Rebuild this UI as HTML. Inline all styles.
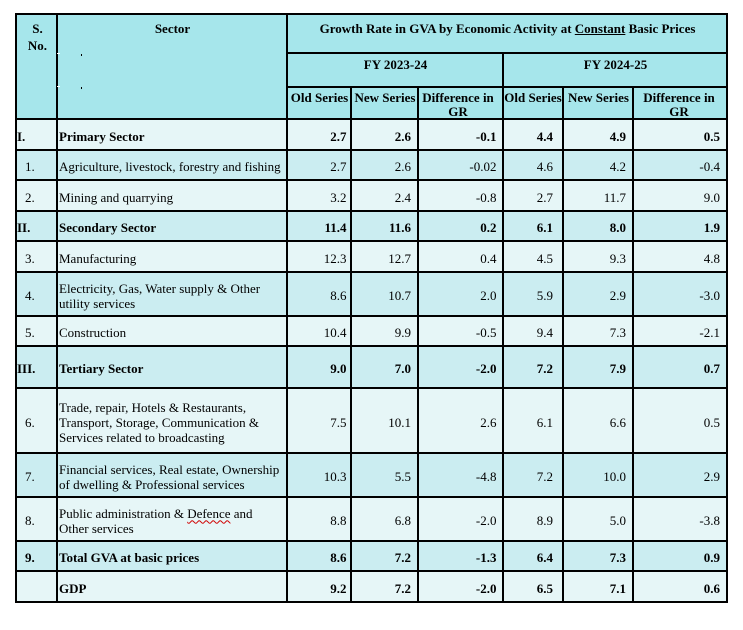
<!DOCTYPE html>
<html><head><meta charset="utf-8">
<style>
html,body{margin:0;padding:0;background:#fff;}
body{width:743px;height:630px;position:relative;overflow:hidden;font-family:"Liberation Serif","Times New Roman",serif;font-size:13px;color:#000;}
.l{position:absolute;background:#000;}
.row{position:absolute;left:16px;width:711px;}
.lt{background:#e6f6f7;}
.dk{background:#cbedf1;}
.c{position:absolute;top:0;height:100%;box-sizing:border-box;display:flex;align-items:center;line-height:15px;padding-top:3px;white-space:nowrap;}
.sn{left:0;width:41px;padding-left:9px;}
.rom{padding-left:1px;}
.sec{left:43px;width:227px;}
.k1,.k2,.k3,.k4,.k5,.k6{justify-content:flex-end;}
.k1{left:272px;width:63px;padding-right:4.5px;}
.k2{left:336px;width:66px;padding-right:7px;}
.k3{left:403px;width:84px;padding-right:6.5px;}
.k4{left:488px;width:59px;padding-right:10px;}
.k5{left:548px;width:69px;padding-right:7px;}
.k6{left:618px;width:93px;padding-right:7px;}
.b .c{font-weight:bold;}
.h{position:absolute;font-weight:bold;line-height:14px;text-align:center;white-space:nowrap;}
.wavy{text-decoration:underline wavy #d00000;text-decoration-thickness:1px;text-underline-offset:2px;}
</style></head><body>

<!-- header background -->
<div style="position:absolute;left:16px;top:14px;width:711px;height:105px;background:#a6e6eb;"></div>

<!-- header text -->
<div class="h" style="left:17px;top:20px;width:41px;line-height:17px;">S.<br>No.</div>
<div class="h" style="left:58px;top:22px;width:229px;">Sector</div>
<div class="h" style="left:288px;top:22px;width:439px;">Growth Rate in GVA by Economic Activity at <span style="text-decoration:underline;">Constant</span> Basic Prices</div>
<div class="h" style="left:288px;top:58px;width:215px;">FY 2023-24</div>
<div class="h" style="left:504px;top:58px;width:223px;">FY 2024-25</div>
<div class="h" style="left:288px;top:91px;width:63px;">Old Series</div>
<div class="h" style="left:352px;top:91px;width:66px;">New Series</div>
<div class="h" style="left:416px;top:91px;width:84px;">Difference in<br>GR</div>
<div class="h" style="left:503px;top:91px;width:60px;">Old Series</div>
<div class="h" style="left:564px;top:91px;width:69px;">New Series</div>
<div class="h" style="left:634px;top:91px;width:90px;">Difference in<br>GR</div>

<!-- body rows -->
<div class="row lt b" style="top:119px;height:31px;">
 <div class="c sn rom">I.</div><div class="c sec">Primary Sector</div>
 <div class="c k1">2.7</div><div class="c k2">2.6</div><div class="c k3">-0.1</div><div class="c k4">4.4</div><div class="c k5">4.9</div><div class="c k6">0.5</div>
</div>
<div class="row dk" style="top:150px;height:30px;">
 <div class="c sn">1.</div><div class="c sec">Agriculture, livestock, forestry and fishing</div>
 <div class="c k1">2.7</div><div class="c k2">2.6</div><div class="c k3">-0.02</div><div class="c k4">4.6</div><div class="c k5">4.2</div><div class="c k6">-0.4</div>
</div>
<div class="row lt" style="top:180px;height:31px;">
 <div class="c sn">2.</div><div class="c sec">Mining and quarrying</div>
 <div class="c k1">3.2</div><div class="c k2">2.4</div><div class="c k3">-0.8</div><div class="c k4">2.7</div><div class="c k5">11.7</div><div class="c k6">9.0</div>
</div>
<div class="row dk b" style="top:211px;height:30px;">
 <div class="c sn rom">II.</div><div class="c sec">Secondary Sector</div>
 <div class="c k1">11.4</div><div class="c k2">11.6</div><div class="c k3">0.2</div><div class="c k4">6.1</div><div class="c k5">8.0</div><div class="c k6">1.9</div>
</div>
<div class="row lt" style="top:241px;height:31px;">
 <div class="c sn">3.</div><div class="c sec">Manufacturing</div>
 <div class="c k1">12.3</div><div class="c k2">12.7</div><div class="c k3">0.4</div><div class="c k4">4.5</div><div class="c k5">9.3</div><div class="c k6">4.8</div>
</div>
<div class="row dk" style="top:272px;height:44px;">
 <div class="c sn">4.</div><div class="c sec">Electricity, Gas, Water supply &amp; Other<br>utility services</div>
 <div class="c k1">8.6</div><div class="c k2">10.7</div><div class="c k3">2.0</div><div class="c k4">5.9</div><div class="c k5">2.9</div><div class="c k6">-3.0</div>
</div>
<div class="row lt" style="top:316px;height:30px;">
 <div class="c sn">5.</div><div class="c sec">Construction</div>
 <div class="c k1">10.4</div><div class="c k2">9.9</div><div class="c k3">-0.5</div><div class="c k4">9.4</div><div class="c k5">7.3</div><div class="c k6">-2.1</div>
</div>
<div class="row dk b" style="top:346px;height:42px;">
 <div class="c sn rom">III.</div><div class="c sec">Tertiary Sector</div>
 <div class="c k1">9.0</div><div class="c k2">7.0</div><div class="c k3">-2.0</div><div class="c k4">7.2</div><div class="c k5">7.9</div><div class="c k6">0.7</div>
</div>
<div class="row lt" style="top:388px;height:65px;">
 <div class="c sn">6.</div><div class="c sec">Trade, repair, Hotels &amp; Restaurants,<br>Transport, Storage, Communication &amp;<br>Services related to broadcasting</div>
 <div class="c k1">7.5</div><div class="c k2">10.1</div><div class="c k3">2.6</div><div class="c k4">6.1</div><div class="c k5">6.6</div><div class="c k6">0.5</div>
</div>
<div class="row dk" style="top:453px;height:44px;">
 <div class="c sn">7.</div><div class="c sec">Financial services, Real estate, Ownership<br>of dwelling &amp; Professional services</div>
 <div class="c k1">10.3</div><div class="c k2">5.5</div><div class="c k3">-4.8</div><div class="c k4">7.2</div><div class="c k5">10.0</div><div class="c k6">2.9</div>
</div>
<div class="row lt" style="top:497px;height:44px;">
 <div class="c sn">8.</div><div class="c sec"><span>Public administration &amp; <span class="wavy">Defence</span> and<br>Other services</span></div>
 <div class="c k1">8.8</div><div class="c k2">6.8</div><div class="c k3">-2.0</div><div class="c k4">8.9</div><div class="c k5">5.0</div><div class="c k6">-3.8</div>
</div>
<div class="row dk b" style="top:541px;height:30px;">
 <div class="c sn">9.</div><div class="c sec">Total GVA at basic prices</div>
 <div class="c k1">8.6</div><div class="c k2">7.2</div><div class="c k3">-1.3</div><div class="c k4">6.4</div><div class="c k5">7.3</div><div class="c k6">0.9</div>
</div>
<div class="row lt b" style="top:571px;height:31px;">
 <div class="c sn"></div><div class="c sec">GDP</div>
 <div class="c k1">9.2</div><div class="c k2">7.2</div><div class="c k3">-2.0</div><div class="c k4">6.5</div><div class="c k5">7.1</div><div class="c k6">0.6</div>
</div>

<!-- vertical lines -->
<div class="l" style="left:15px;top:13px;width:2px;height:590px;"></div>
<div class="l" style="left:56px;top:13px;width:2px;height:590px;"></div>
<div class="l" style="left:286px;top:13px;width:2px;height:590px;"></div>
<div class="l" style="left:350px;top:86px;width:2px;height:517px;"></div>
<div class="l" style="left:417px;top:86px;width:2px;height:517px;"></div>
<div class="l" style="left:502px;top:52px;width:2px;height:551px;"></div>
<div class="l" style="left:562px;top:86px;width:2px;height:517px;"></div>
<div class="l" style="left:632px;top:86px;width:2px;height:517px;"></div>
<div class="l" style="left:726px;top:13px;width:2px;height:590px;"></div>

<!-- horizontal lines -->
<div class="l" style="left:15px;top:13px;width:713px;height:2px;"></div>
<div class="l" style="left:286px;top:52px;width:442px;height:2px;"></div>
<div class="l" style="left:286px;top:86px;width:442px;height:2px;"></div>
<div class="l" style="left:15px;top:118px;width:713px;height:2px;"></div>
<div class="l" style="left:15px;top:149px;width:713px;height:2px;"></div>
<div class="l" style="left:15px;top:179px;width:713px;height:2px;"></div>
<div class="l" style="left:15px;top:210px;width:713px;height:2px;"></div>
<div class="l" style="left:15px;top:240px;width:713px;height:2px;"></div>
<div class="l" style="left:15px;top:271px;width:713px;height:2px;"></div>
<div class="l" style="left:15px;top:315px;width:713px;height:2px;"></div>
<div class="l" style="left:15px;top:345px;width:713px;height:2px;"></div>
<div class="l" style="left:15px;top:387px;width:713px;height:2px;"></div>
<div class="l" style="left:15px;top:452px;width:713px;height:2px;"></div>
<div class="l" style="left:15px;top:496px;width:713px;height:2px;"></div>
<div class="l" style="left:15px;top:540px;width:713px;height:2px;"></div>
<div class="l" style="left:15px;top:570px;width:713px;height:2px;"></div>
<div class="l" style="left:15px;top:601px;width:713px;height:2px;"></div>

<!-- small artifacts -->
<div style="position:absolute;left:57px;top:53px;width:3px;height:1px;background:#fff;"></div>
<div style="position:absolute;left:57px;top:86px;width:3px;height:1px;background:#fff;"></div>
<div class="l" style="left:81px;top:54px;width:1px;height:2px;"></div>
<div class="l" style="left:81px;top:87px;width:1px;height:2px;"></div>

</body></html>
